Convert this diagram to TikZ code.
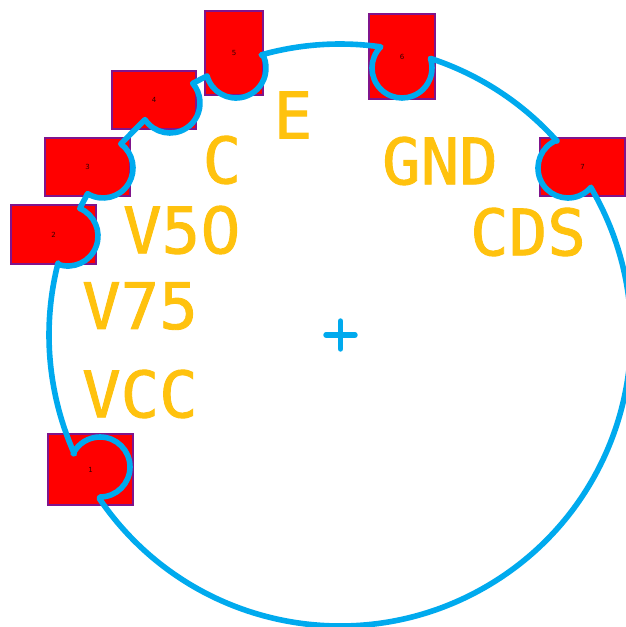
\documentclass[tikz,border=0pt]{standalone}
\usepackage{fontspec}
\newfontfamily\silkfont[FakeBold=1.4]{DejaVu Sans Mono}
\newfontfamily\plainzero[FakeBold=1.4]{DejaVu Sans}
\setsansfont{DejaVu Sans}
\definecolor{padred}{RGB}{255,0,0}
\definecolor{padedge}{RGB}{128,20,140}
\definecolor{outlineblue}{RGB}{0,170,238}
\definecolor{silk}{RGB}{255,194,14}
\tikzset{
  x=1pt,y=1pt,
  pad/.style={draw=padedge,line width=1.6pt,fill=padred,inner sep=0pt,text=black!80!red,font=\sffamily\fontsize{7}{7}\selectfont},
  silklabel/.style={text=silk,inner sep=0pt,font=\silkfont\fontsize{64}{64}\selectfont},
  outlinestroke/.style={draw=outlineblue,line width=5.6pt,line cap=round,line join=round}
}
\begin{document}
\begin{tikzpicture}
\useasboundingbox (0,0) rectangle (626,627);
\fill[white] (0,0) rectangle (626,627);
% pads (centres in pixels, y measured upward)
\node[pad,minimum width=85pt,minimum height=71pt] (p1) at (90.5,157.5) {1};
\node[pad,minimum width=85pt,minimum height=59pt] (p2) at (53.5,392.5) {2};
\node[pad,minimum width=85pt,minimum height=58pt] (p3) at (87.5,460) {3};
\node[pad,minimum width=84pt,minimum height=58pt] (p4) at (154,527) {4};
\node[pad,minimum width=58pt,minimum height=84pt] (p5) at (234,574) {5};
\node[pad,minimum width=66pt,minimum height=85pt] (p6) at (402,570.5) {6};
\node[pad,minimum width=85pt,minimum height=58pt] (p7) at (582.5,460) {7};
% silkscreen texts
\node[silklabel] (tvcc) at (140,233) {VCC};
\node[silklabel] (tv75) at (140,321) {V75};
\node[silklabel] (tv50) at (182,397) {V5{\plainzero\fontsize{64}{64}\selectfont 0}};
\node[silklabel] (tc) at (222,467) {C};
\node[silklabel] (te) at (293,512) {E};
\node[silklabel] (tgnd) at (440,466) {GND};
\node[silklabel] (tcds) at (528,395) {CDS};
% outline
\coordinate (cen) at (340,292);
\coordinate (n1) at (100,160);
\coordinate (n2) at (68,391);
\coordinate (n3) at (103,459);
\coordinate (n4) at (170,524);
\coordinate (n5) at (236,559);
\coordinate (n6) at (402,559);
\coordinate (n7) at (568,459);
\draw[outlinestroke]
  ([shift={(cen)}]204.1:291pt) arc[start angle=204.1,end angle=165.7,radius=291pt]
  -- ([shift={(n2)}]-110:30pt) arc[start angle=-110,end angle=66.8,radius=30pt]
  -- ([shift={(n3)}]-121:30pt) arc[start angle=-121,end angle=53.5,radius=30pt]
  -- ([shift={(n4)}]-146.3:30pt) arc[start angle=-146.3,end angle=40.8,radius=30pt]
  -- ([shift={(n5)}]-164.6:30pt) arc[start angle=-164.6,end angle=22.9,radius=30pt]
  -- ([shift={(cen)}]105.7:291pt) arc[start angle=105.7,end angle=82.1,radius=291pt]
  -- ([shift={(n6)}]135:30pt) arc[start angle=135,end angle=376,radius=30pt]
  -- ([shift={(cen)}]71.9:291pt) arc[start angle=71.9,end angle=41.8,radius=291pt]
  -- ([shift={(n7)}]112:30pt) arc[start angle=112,end angle=320,radius=30pt]
  -- ([shift={(cen)}]30.3:291pt) arc[start angle=30.3,end angle=-145.8,radius=291pt]
  -- ([shift={(n1)}]-90:30pt) arc[start angle=-90,end angle=153.4,radius=30pt]
  -- cycle;
% centre cross
\draw[outlinestroke,line width=5.4pt] (326,292) -- (355,292);
\draw[outlinestroke,line width=5.4pt] (340.5,278) -- (340.5,306);
\end{tikzpicture}
\end{document}
